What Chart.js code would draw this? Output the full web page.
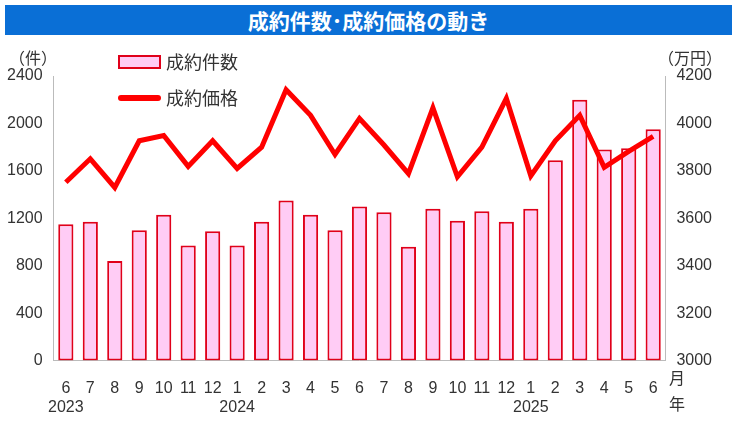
<!DOCTYPE html>
<html><head><meta charset="utf-8">
<script src="https://cdn.jsdelivr.net/npm/chart.js@4"></script>
<style>
body{margin:0;background:#fff;font-family:"Noto Sans CJK JP",sans-serif;}
#t{position:absolute;left:5px;top:5px;width:727px;height:30px;background:#0a6fd6;color:#fff;font-weight:bold;font-size:21px;text-align:center;line-height:30px;}
#w{position:absolute;left:0;top:38px;width:737px;height:389px;}
</style></head><body>
<div id="t">成約件数･成約価格の動き</div>
<div id="w"><canvas id="c"></canvas></div>
<script>
const months=['6','7','8','9','10','11','12','1','2','3','4','5','6','7','8','9','10','11','12','1','2','3','4','5','6'];
const years={0:'2023',7:'2024',19:'2025'};
const counts=[1150,1170,840,1100,1230,970,1090,970,1170,1350,1230,1100,1300,1250,960,1280,1180,1260,1170,1280,1690,2200,1780,1790,1950];
const prices=[3752,3851,3730,3927,3949,3819,3927,3810,3900,4142,4034,3869,4021,3909,3788,4066,3775,3900,4106,3779,3927,4034,3815,3882,3945];
const labels=months.map((m,i)=>years[i]?[m,years[i]]:[m,'']);
const F="'Noto Sans CJK JP', sans-serif";
const N="'Liberation Sans', Arial, sans-serif";
const extra={id:'extra',afterDraw(ch){const c=ch.ctx;c.save();c.fillStyle='#333';c.font='16px '+F;
c.textAlign='center';c.textBaseline='middle';c.fillText('（件）',33,20);c.fillText('（万円）',690,20);
c.fillText('月',677,340);c.fillText('年',677,366);
c.textAlign='left';c.font='18px '+F;
c.fillStyle='#ffccf5';c.fillRect(119,18,41,12);c.strokeStyle='#e0001a';c.lineWidth=2;c.strokeRect(119,18,41,12);
c.fillStyle='#333';c.fillText('成約件数',166,24);
c.strokeStyle='#f00';c.lineWidth=6;c.lineCap='round';c.beginPath();c.moveTo(121,60);c.lineTo(158,60);c.stroke();
c.fillText('成約価格',166,60);c.restore();}};
new Chart(document.getElementById('c'),{
data:{labels,datasets:[
{type:'line',label:'成約価格',data:prices,yAxisID:'y2',borderColor:'#f00',backgroundColor:'#f00',borderWidth:5,pointRadius:0,tension:0,order:0},
{type:'bar',label:'成約件数',data:counts,yAxisID:'y',backgroundColor:'#ffccf5',borderColor:'#e0001a',borderWidth:2,borderSkipped:false,barPercentage:0.62,categoryPercentage:1,order:1}
]},
options:{responsive:true,maintainAspectRatio:false,animation:false,
layout:{padding:{top:38,left:4,right:22,bottom:0}},
plugins:{legend:{display:false},tooltip:{enabled:false}},
scales:{
x:{grid:{display:false},border:{color:'#bbb'},ticks:{color:'#333',font:{family:N,size:16},maxRotation:0,autoSkip:false,padding:10}},
y:{position:'left',min:0,max:2400,grid:{display:false},border:{color:'#bbb'},ticks:{stepSize:400,color:'#333',font:{family:N,size:16},callback:v=>String(v)}},
y2:{position:'right',min:3000,max:4200,grid:{display:false},border:{color:'#bbb'},ticks:{stepSize:200,color:'#333',font:{family:N,size:16},callback:v=>String(v)}}
}},
plugins:[extra]
});
</script></body></html>
